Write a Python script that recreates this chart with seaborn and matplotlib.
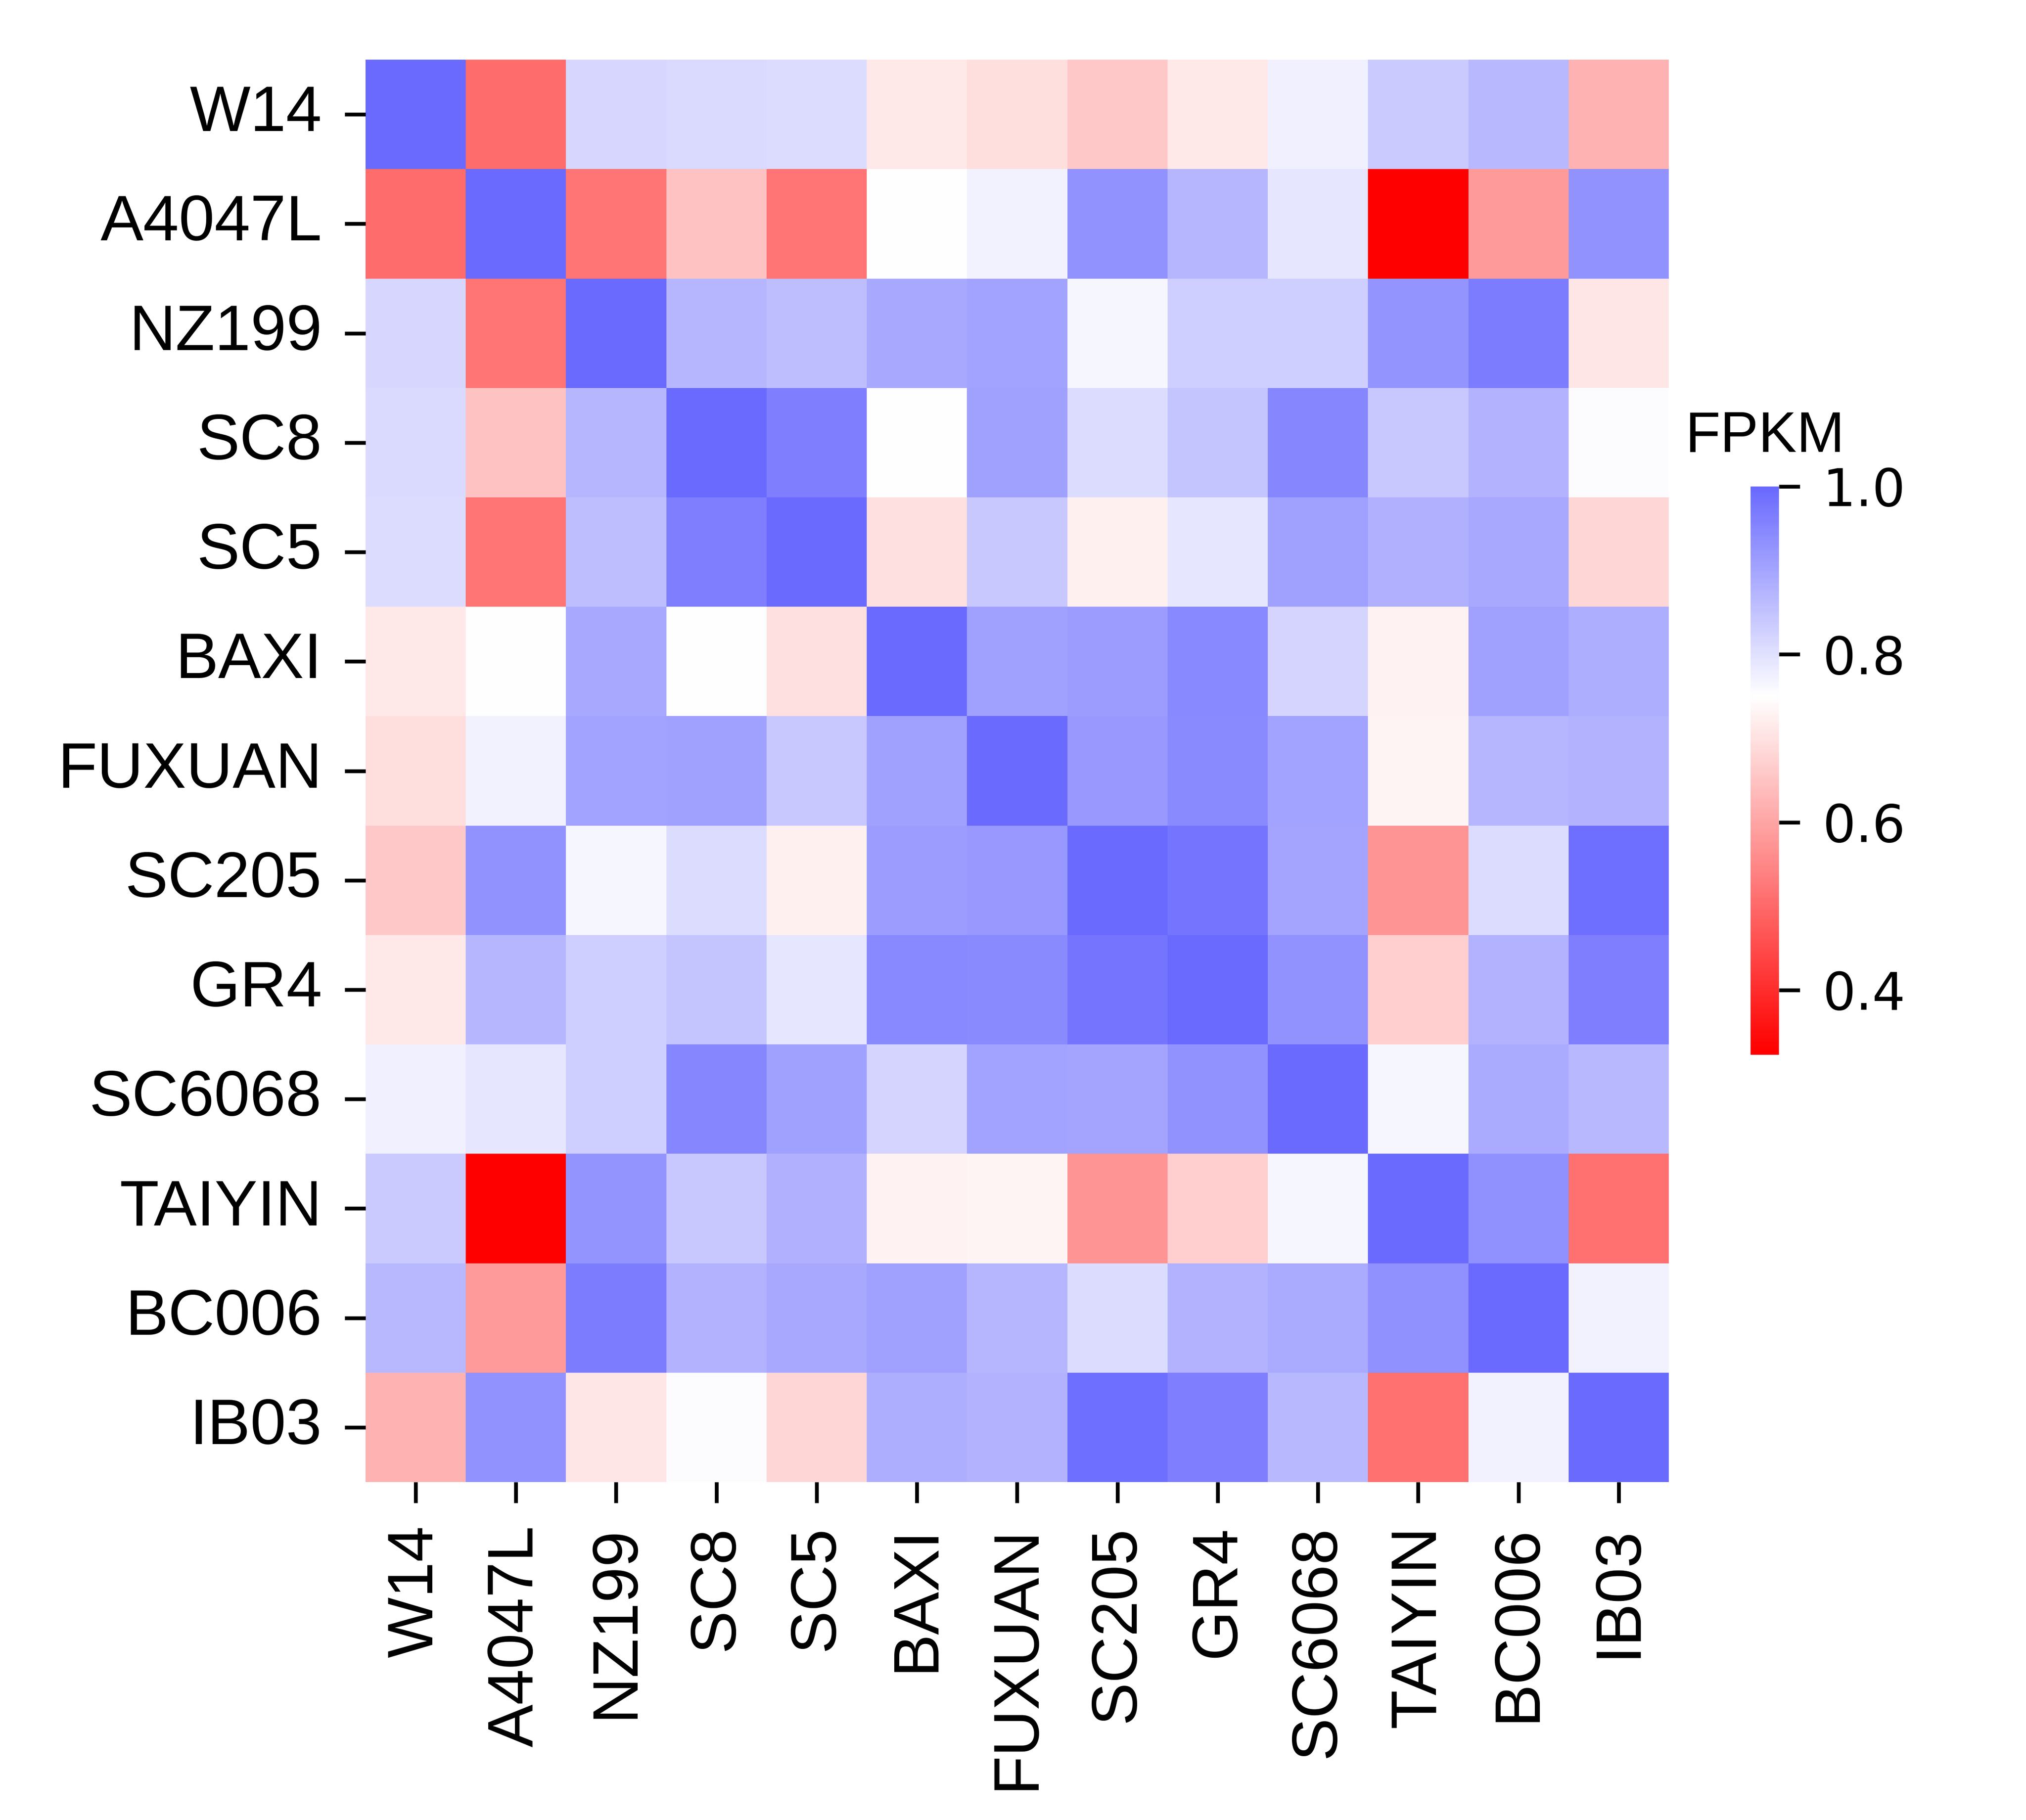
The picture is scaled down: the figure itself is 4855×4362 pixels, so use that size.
import matplotlib
matplotlib.use('Agg')
import matplotlib.pyplot as plt
import seaborn as sns
import pandas as pd

plt.rcParams['font.family'] = 'DejaVu Sans'

samples = ['W14', 'A4047L', 'NZ199', 'SC8', 'SC5', 'BAXI', 'FUXUAN',
           'SC205', 'GR4', 'SC6068', 'TAIYIN', 'BC006', 'IB03']

# pairwise correlation of FPKM values, one row per sample
w14    = [1.000, 0.507, 0.817, 0.812, 0.809, 0.713, 0.695, 0.658, 0.711, 0.775, 0.837, 0.866, 0.624]
a4047l = [0.507, 1.000, 0.520, 0.649, 0.520, 0.748, 0.772, 0.931, 0.873, 0.789, 0.323, 0.584, 0.931]
nz199  = [0.817, 0.520, 1.000, 0.873, 0.859, 0.893, 0.903, 0.765, 0.831, 0.831, 0.928, 0.966, 0.708]
sc8    = [0.812, 0.649, 0.873, 1.000, 0.963, 0.750, 0.906, 0.809, 0.847, 0.950, 0.839, 0.876, 0.755]
sc5    = [0.809, 0.520, 0.859, 0.963, 1.000, 0.696, 0.842, 0.725, 0.789, 0.908, 0.883, 0.893, 0.681]
baxi   = [0.713, 0.748, 0.893, 0.750, 0.696, 1.000, 0.906, 0.913, 0.946, 0.822, 0.728, 0.909, 0.886]
fuxuan = [0.695, 0.772, 0.903, 0.906, 0.842, 0.906, 1.000, 0.923, 0.943, 0.904, 0.732, 0.873, 0.878]
sc205  = [0.658, 0.931, 0.765, 0.809, 0.725, 0.913, 0.923, 1.000, 0.980, 0.902, 0.572, 0.807, 0.990]
gr4    = [0.711, 0.873, 0.831, 0.847, 0.789, 0.946, 0.943, 0.980, 1.000, 0.930, 0.669, 0.876, 0.963]
sc6068 = [0.775, 0.789, 0.831, 0.950, 0.908, 0.822, 0.904, 0.902, 0.930, 1.000, 0.767, 0.891, 0.869]
taiyin = [0.837, 0.323, 0.928, 0.839, 0.883, 0.728, 0.732, 0.572, 0.669, 0.767, 1.000, 0.933, 0.513]
bc006  = [0.866, 0.584, 0.966, 0.876, 0.893, 0.909, 0.873, 0.807, 0.876, 0.891, 0.933, 1.000, 0.772]
ib03   = [0.624, 0.931, 0.708, 0.755, 0.681, 0.886, 0.878, 0.990, 0.963, 0.869, 0.513, 0.772, 1.000]

cbar_ticks = [0.4, 0.6, 0.8, 1.0]

corr = pd.DataFrame([w14, a4047l, nz199, sc8, sc5, baxi, fuxuan,
                     sc205, gr4, sc6068, taiyin, bc006, ib03],
                    index=samples, columns=samples)

fig = plt.figure(figsize=(4855 / 300, 4362 / 300), dpi=300)
ax = fig.add_axes([0.1804, 0.1857, 0.6433, 0.7815])
cax = fig.add_axes([0.8641, 0.4205, 0.0140, 0.3122])

sns.heatmap(corr, cmap='bwr_r', center=0.75, ax=ax, cbar_ax=cax,
            cbar_kws={'ticks': cbar_ticks})

ax.set_xticklabels(samples, rotation=90, fontname='Liberation Sans', fontsize=37)
ax.set_yticklabels(samples, rotation=0, fontname='Liberation Sans', fontsize=37)
ax.tick_params(length=12, width=2.2, pad=13)

cax.tick_params(length=12, width=2.2, pad=13, labelsize=30)
cax.set_title('FPKM', fontname='Liberation Sans', fontsize=33, pad=20)

fig.savefig('out.png', dpi=300)
